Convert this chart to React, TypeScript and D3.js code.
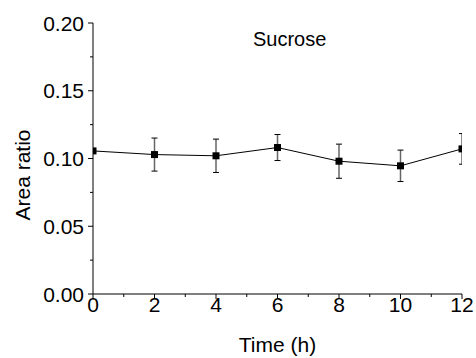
import React from "react";
import * as d3 from "d3";

const times = [0, 2, 4, 6, 8, 10, 12];
const areaRatio = [0.1056, 0.1029, 0.102, 0.1081, 0.098, 0.0946, 0.1071];
const errors = [0, 0.0122, 0.0123, 0.0096, 0.0126, 0.0116, 0.0113];
const xTicks = [0, 2, 4, 6, 8, 10, 12];
const xMinorTicks = [1, 3, 5, 7, 9, 11];
const yTicks = [0, 0.05, 0.1, 0.15, 0.2];
const yMinorTicks = [0.025, 0.075, 0.125, 0.175];
const title = "Sucrose";
const xLabel = "Time (h)";
const yLabel = "Area ratio";

const W = 476;
const H = 358;
const FONT = "'Liberation Sans', Arial, sans-serif";

export default function App() {
  const x = d3.scaleLinear().domain([0, 12]).range([93, 462]);
  const y = d3.scaleLinear().domain([0, 0.2]).range([294, 23]);
  const line = d3
    .line<number>()
    .x((_, i) => x(times[i]))
    .y((d) => y(d));
  const ms = 7;
  return (
    <svg
      width={W}
      height={H}
      style={{ position: "absolute", left: 0, top: 0, background: "#fff" }}
      fontFamily={FONT}
    >
      <defs>
        <clipPath id="plotclip">
          <rect x={x(0)} y={y(0.2)} width={x(12) - x(0)} height={y(0) - y(0.2)} />
        </clipPath>
      </defs>
      <g clipPath="url(#plotclip)">
        <path d={line(areaRatio) || ""} fill="none" stroke="#000" strokeWidth={1} />
        {times.map((t, i) => {
          const cx = x(t);
          const top = y(areaRatio[i] + errors[i]);
          const bot = y(areaRatio[i] - errors[i]);
          if (errors[i] === 0) return null;
          return (
            <g key={"e" + i}>
              <line x1={cx} x2={cx} y1={top} y2={bot} stroke="#666" strokeWidth={1.5} />
              <line x1={cx - 3} x2={cx + 3} y1={top} y2={top} stroke="#000" strokeWidth={1} />
              <line x1={cx - 3} x2={cx + 3} y1={bot} y2={bot} stroke="#000" strokeWidth={1} />
            </g>
          );
        })}
        {times.map((t, i) => (
          <rect
            key={"m" + i}
            x={x(t) - ms / 2}
            y={y(areaRatio[i]) - ms / 2}
            width={ms}
            height={ms}
            fill="#000"
          />
        ))}
      </g>
      {/* axes */}
      <line x1={x(0)} x2={x(12)} y1={y(0)} y2={y(0)} stroke="#000" strokeWidth={1} />
      <line x1={x(0)} x2={x(0)} y1={y(0)} y2={y(0.2)} stroke="#000" strokeWidth={1} />
      {xTicks.map((t) => (
        <g key={"xt" + t}>
          <line x1={x(t)} x2={x(t)} y1={y(0)} y2={y(0) + 5} stroke="#000" strokeWidth={1} />
          <text x={x(t)} y={312} textAnchor="middle" fontSize={21} fill="#000">
            {t}
          </text>
        </g>
      ))}
      {xMinorTicks.map((t) => (
        <line key={"xm" + t} x1={x(t)} x2={x(t)} y1={y(0)} y2={y(0) + 3} stroke="#000" strokeWidth={1} />
      ))}
      {yTicks.map((t) => (
        <g key={"yt" + t}>
          <line x1={x(0) - 5} x2={x(0)} y1={y(t)} y2={y(t)} stroke="#000" strokeWidth={1} />
          <text x={84} y={y(t) + 7.5} textAnchor="end" fontSize={21} fill="#000">
            {t.toFixed(2)}
          </text>
        </g>
      ))}
      {yMinorTicks.map((t) => (
        <line key={"ym" + t} x1={x(0) - 3} x2={x(0)} y1={y(t)} y2={y(t)} stroke="#000" strokeWidth={1} />
      ))}
      <text x={253} y={46} fontSize={20} fill="#000">
        {title}
      </text>
      <text x={(x(0) + x(12)) / 2} y={352} textAnchor="middle" fontSize={21} fill="#000">
        {xLabel}
      </text>
      <text
        transform={`translate(30,175) rotate(-90)`}
        textAnchor="middle"
        fontSize={21}
        fill="#000"
      >
        {yLabel}
      </text>
    </svg>
  );
}
